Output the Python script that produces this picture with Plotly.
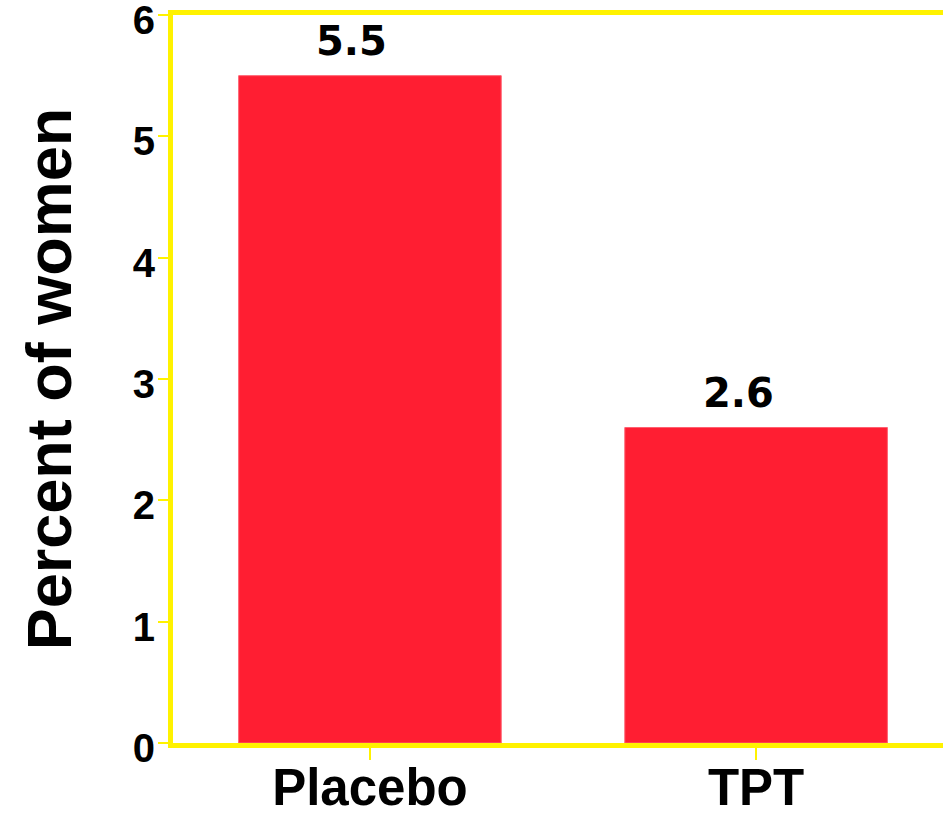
import plotly.graph_objects as go

groups = ["Placebo", "TPT"]
percent_women = [5.5, 2.6]
y_ticks = [0, 1, 2, 3, 4, 5, 6]

RED = "#FF1E32"
YELLOW = "#FFF200"
FONT = "Liberation Sans, Arial, sans-serif"
LABEL_FONT = "DejaVu Sans, Liberation Sans, sans-serif"

fig = go.Figure(
    go.Bar(
        x=groups,
        y=percent_women,
        width=0.68,
        marker=dict(color=RED, line=dict(color="#FF6070", width=1)),
        hoverinfo="skip",
    )
)

# value labels above each bar
for g, v in zip(groups, percent_women):
    fig.add_annotation(
        x=g, y=v, text=f"<b>{v}</b>", showarrow=False,
        yanchor="bottom", yshift=10, xshift=-18,
        font=dict(family=LABEL_FONT, size=40, color="black"),
    )

fig.update_layout(
    width=943, height=818,
    margin=dict(l=173, r=0, t=15, b=75),
    paper_bgcolor="white", plot_bgcolor="white",
    showlegend=False,
    font=dict(family=FONT, color="black"),
    xaxis=dict(
        range=[-0.51, 1.484], automargin=False,
        showline=True, linecolor=YELLOW, linewidth=5, mirror=True,
        ticks="outside", tickcolor=YELLOW, ticklen=12, tickwidth=2,
        ticklabelstandoff=-16,
        tickfont=dict(family=FONT, size=51, color="black"),
        tickvals=groups, ticktext=[f"<b>{g}</b>" for g in groups],
        showgrid=False, zeroline=False, layer="below traces",
    ),
    yaxis=dict(
        range=[0, 6], automargin=False,
        showline=True, linecolor=YELLOW, linewidth=5,
        ticks="outside", tickcolor=YELLOW, ticklen=10, tickwidth=2,
        ticklabeloverflow="allow", ticklabelstandoff=-5, ticklabelshift=5,
        tickvals=y_ticks, ticktext=[f"<b>{t}</b>" for t in y_ticks],
        tickfont=dict(family=FONT, size=40, color="black"),
        showgrid=False, zeroline=False, layer="below traces",
        title=dict(text="<b>Percent of women</b>",
                   font=dict(family=FONT, size=63, color="black"),
                   standoff=42),
    ),
)

fig.write_html("out.html")
